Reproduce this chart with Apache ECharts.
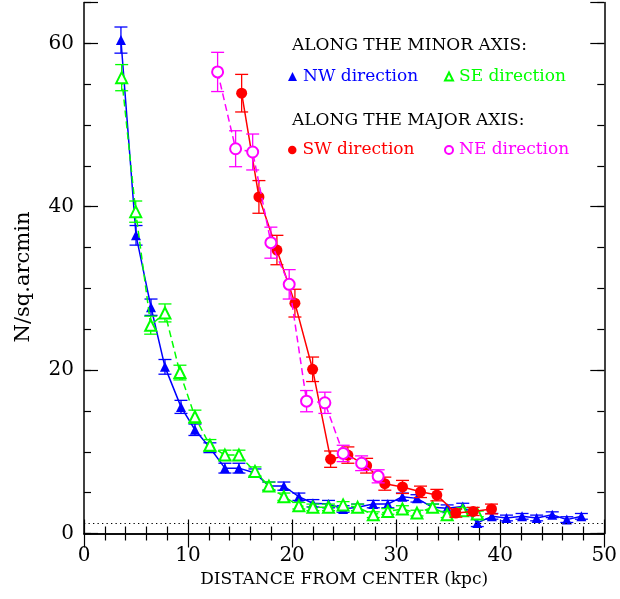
<!DOCTYPE html>
<html>
<head>
<meta charset="utf-8">
<script src="https://cdn.jsdelivr.net/npm/echarts@6/dist/echarts.min.js"></script>
<style>html,body{margin:0;padding:0;background:#fff}#c{width:620px;height:599px}</style>
</head>
<body>
<div id="c"></div>
<script>
// NW direction (minor axis) — filled blue triangles
var nwX = [3.55, 5.0, 6.44, 7.78, 9.32, 10.66, 12.10, 13.54, 14.89, 16.43, 17.77, 19.21, 20.65, 22.0, 23.5, 24.9, 26.3, 27.8, 29.2, 30.6, 32.0, 33.5, 34.9, 36.4, 37.8, 39.2, 40.6, 42.1, 43.5, 45.0, 46.4, 47.8];
var nwY = [60.4, 36.5, 27.7, 20.4, 15.5, 12.7, 10.5, 8.0, 8.0, 7.4, 5.8, 5.8, 4.5, 3.7, 3.6, 3.0, 3.2, 3.6, 3.6, 4.5, 4.3, 3.2, 3.1, 3.3, 1.3, 2.1, 1.9, 2.1, 1.9, 2.3, 1.7, 2.1];
var nwErr = [1.6, 1.2, 1.0, 0.9, 0.8, 0.7, 0.6, 0.6, 0.6, 0.5, 0.5, 0.5, 0.45, 0.45, 0.45, 0.4, 0.4, 0.45, 0.45, 0.45, 0.45, 0.4, 0.4, 0.4, 0.45, 0.35, 0.35, 0.35, 0.35, 0.35, 0.35, 0.35];
// SE direction (minor axis) — open green triangles
var seX = [3.62, 4.97, 6.41, 7.78, 9.22, 10.66, 12.10, 13.54, 14.89, 16.43, 17.77, 19.21, 20.65, 22.0, 23.5, 24.9, 26.3, 27.8, 29.2, 30.6, 32.0, 33.5, 34.9, 36.4, 37.8];
var seY = [55.8, 39.4, 25.5, 27.0, 19.7, 14.3, 10.8, 9.6, 9.6, 7.6, 5.8, 4.5, 3.4, 3.2, 3.2, 3.5, 3.2, 2.3, 2.7, 3.0, 2.5, 3.2, 2.3, 2.8, 2.4];
var seErr = [1.6, 1.3, 1.1, 1.1, 0.9, 0.8, 0.7, 0.6, 0.6, 0.55, 0.5, 0.45, 0.4, 0.4, 0.4, 0.4, 0.4, 0.35, 0.35, 0.4, 0.35, 0.4, 0.35, 0.35, 0.35];
// SW direction (major axis) — filled red circles
var swX = [15.15, 16.81, 18.54, 20.27, 21.97, 23.70, 25.36, 27.16, 28.91, 30.61, 32.34, 33.91, 35.73, 37.40, 39.16];
var swY = [53.9, 41.2, 34.7, 28.2, 20.1, 9.1, 9.6, 8.3, 6.1, 5.7, 5.1, 4.7, 2.5, 2.7, 3.0];
var swErr = [2.3, 2.0, 1.8, 1.7, 1.5, 1.0, 1.0, 0.9, 0.8, 0.8, 0.7, 0.7, 0.5, 0.5, 0.6];
// NE direction (major axis) — open magenta circles
var neX = [12.84, 14.57, 16.21, 17.96, 19.72, 21.39, 23.15, 24.91, 26.68, 28.27];
var neY = [56.5, 47.1, 46.7, 35.6, 30.5, 16.2, 16.0, 9.8, 8.6, 7.0];
var neErr = [2.4, 2.2, 2.2, 1.9, 1.8, 1.3, 1.3, 1.0, 0.9, 0.8];
// background level (dotted line)
var bgLevel = 1.3;

var FONT = 'DejaVu Serif';
var BLUE = '#0000ff', GREEN = '#00ff00', RED = '#ff0000', MAG = '#ff00ff';

function pairs(xs, ys) { return xs.map(function (x, i) { return [x, ys[i]]; }); }
function triples(xs, ys, es) { return xs.map(function (x, i) { return [x, ys[i], es[i]]; }); }

function errRender(color) {
  return function (params, api) {
    var x = api.value(0), y = api.value(1), e = api.value(2);
    var lo = api.coord([x, y - e]), hi = api.coord([x, y + e]);
    var w = 6.5;
    var st = { stroke: color, lineWidth: 1.3 };
    return { type: 'group', children: [
      { type: 'line', shape: { x1: lo[0], y1: lo[1], x2: hi[0], y2: hi[1] }, style: st },
      { type: 'line', shape: { x1: lo[0] - w, y1: lo[1], x2: lo[0] + w, y2: lo[1] }, style: st },
      { type: 'line', shape: { x1: hi[0] - w, y1: hi[1], x2: hi[0] + w, y2: hi[1] }, style: st }
    ]};
  };
}

function xAxisDef(pos, showLabel) {
  return {
    type: 'value', position: pos, min: 0, max: 50, interval: 10,
    axisLine: { show: true, lineStyle: { color: '#000', width: 1.5 } },
    axisTick: { show: true, inside: true, length: 14, lineStyle: { color: '#000', width: 1.2 } },
    minorTick: { show: true, splitNumber: 5, length: 7, lineStyle: { color: '#000', width: 1.2 } },
    splitLine: { show: false }, minorSplitLine: { show: false },
    axisLabel: { show: showLabel, fontFamily: FONT, fontSize: 20, color: '#000', margin: 12 },
    name: showLabel ? 'DISTANCE FROM CENTER (kpc)' : '',
    nameLocation: 'middle', nameGap: 38,
    nameTextStyle: { fontFamily: FONT, fontSize: 17, color: '#000' }
  };
}
function yAxisDef(pos, interval, tickLen, showLine, showLabel) {
  return {
    type: 'value', position: pos, min: 0, max: 65, interval: interval,
    axisLine: { show: showLine, lineStyle: { color: '#000', width: 1.5 } },
    axisTick: { show: true, inside: true, length: tickLen, lineStyle: { color: '#000', width: 1.2 } },
    splitLine: { show: false },
    axisLabel: { show: showLabel, fontFamily: FONT, fontSize: 20, color: '#000', margin: 10,
      formatter: function (v) { return v % 20 === 0 ? String(v) : ''; } },
    name: showLabel ? 'N/sq.arcmin' : '',
    nameLocation: 'middle', nameGap: 50,
    nameTextStyle: { fontFamily: FONT, fontSize: 21, color: '#000', padding: [0, 18, 0, 0] }
  };
}

function legendDef(name, icon, size, color, left, top) {
  return {
    show: true, left: left, top: top, padding: 0, orient: 'horizontal',
    itemWidth: size, itemHeight: size, itemGap: 0, selectedMode: false,
    data: [{ name: name, icon: icon, itemStyle: { color: color }, textStyle: { color: color } }],
    textStyle: { fontFamily: FONT, fontSize: 17, color: color, padding: [0, 0, 0, 1] }
  };
}

var chart = echarts.init(document.getElementById('c'), null, { renderer: 'canvas' });
chart.setOption({
  animation: false,
  backgroundColor: '#fff',
  grid: { left: 84, right: 15.5, top: 2.5, bottom: 65.5, containLabel: false },
  xAxis: [xAxisDef('bottom', true), xAxisDef('top', false)],
  yAxis: [
    yAxisDef('left', 5, 7, true, true),
    yAxisDef('left', 20, 14, false, false),
    yAxisDef('right', 5, 7, true, false),
    yAxisDef('right', 20, 14, false, false)
  ],
  legend: [
    legendDef('NW direction', 'triangle', 9, BLUE, 288, 68),
    legendDef('SE direction', 'emptyTriangle', 8, GREEN, 444, 68),
    legendDef('SW direction', 'circle', 8.5, RED, 288, 141.5),
    legendDef('NE direction', 'emptyCircle', 8, MAG, 444, 141.5)
  ],
  graphic: [
    { type: 'text', left: 292, top: 37, style: { text: 'ALONG THE MINOR AXIS:', fontFamily: FONT, fontSize: 17, fill: '#000' } },
    { type: 'text', left: 292, top: 112, style: { text: 'ALONG THE MAJOR AXIS:', fontFamily: FONT, fontSize: 17, fill: '#000' } }
  ],
  series: [
    { name: 'NW direction', type: 'line', data: pairs(nwX, nwY), symbol: 'triangle', symbolSize: 10,
      itemStyle: { color: BLUE }, lineStyle: { color: BLUE, width: 1.5 }, z: 3,
      markLine: { silent: true, symbol: 'none', label: { show: false },
        lineStyle: { color: '#000', width: 1, type: [1.3, 3.2] },
        data: [[{ coord: [0, bgLevel] }, { coord: [50, bgLevel] }]] } },
    { type: 'custom', data: triples(nwX, nwY, nwErr), renderItem: errRender(BLUE), encode: { x: 0, y: 1 }, z: 3 },
    { name: 'SE direction', type: 'line', data: pairs(seX, seY), symbol: 'emptyTriangle', symbolSize: 11,
      itemStyle: { color: GREEN, borderWidth: 1.3 }, lineStyle: { color: GREEN, width: 1.5, type: [7, 4] }, z: 4 },
    { type: 'custom', data: triples(seX, seY, seErr), renderItem: errRender(GREEN), encode: { x: 0, y: 1 }, z: 4 },
    { name: 'SW direction', type: 'line', data: pairs(swX, swY), symbol: 'circle', symbolSize: 11,
      itemStyle: { color: RED }, lineStyle: { color: RED, width: 1.5 }, z: 5 },
    { type: 'custom', data: triples(swX, swY, swErr), renderItem: errRender(RED), encode: { x: 0, y: 1 }, z: 5 },
    { name: 'NE direction', type: 'line', data: pairs(neX, neY), symbol: 'emptyCircle', symbolSize: 11,
      itemStyle: { color: MAG, borderWidth: 1.3 }, lineStyle: { color: MAG, width: 1.5, type: [7, 4] }, z: 6 },
    { type: 'custom', data: triples(neX, neY, neErr), renderItem: errRender(MAG), encode: { x: 0, y: 1 }, z: 6 }
  ]
});
</script>
</body>
</html>
